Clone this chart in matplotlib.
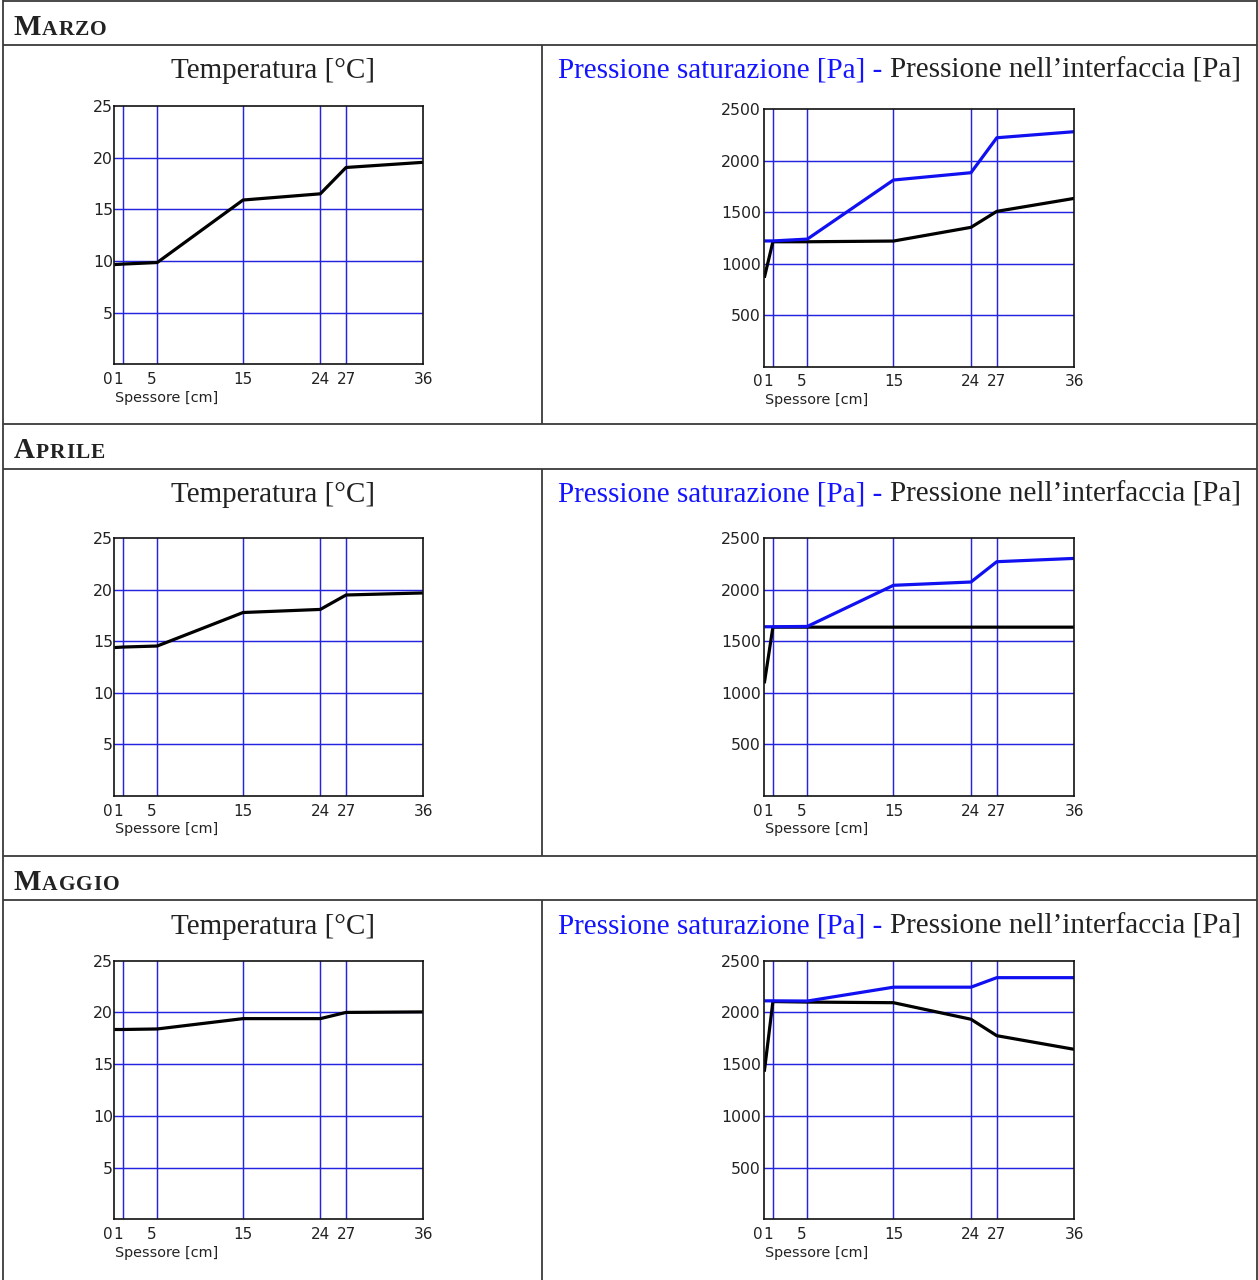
import matplotlib
matplotlib.use("Agg")
import matplotlib.pyplot as plt
from matplotlib.lines import Line2D
from matplotlib.transforms import ScaledTranslation

W, H, DPI = 1258, 1280, 100

# ---- data -------------------------------------------------------------
mesi = ["Marzo", "Aprile", "Maggio"]
spessore_cm = [0, 1, 5, 15, 24, 27, 36]
spessore_labels = ["0", "1", "5", "15", "24", "27", "36"]

temp_ticks = [5, 10, 15, 20, 25]
pres_ticks = [500, 1000, 1500, 2000, 2500]

temp_marzo = [9.65, 9.7, 9.85, 15.9, 16.5, 19.05, 19.55]
temp_aprile = [14.4, 14.45, 14.55, 17.8, 18.1, 19.5, 19.7]
temp_maggio = [18.35, 18.35, 18.4, 19.4, 19.4, 20.0, 20.05]

psat_marzo = [1220, 1220, 1238, 1811, 1882, 2221, 2280]
pint_marzo = [863, 1212, 1212, 1219, 1352, 1507, 1633]
psat_aprile = [1642, 1642, 1645, 2044, 2076, 2273, 2305]
pint_aprile = [1093, 1638, 1638, 1638, 1638, 1638, 1638]
psat_maggio = [2112, 2112, 2110, 2244, 2244, 2336, 2336]
pint_maggio = [1427, 2105, 2100, 2094, 1934, 1775, 1643]

temperature = [temp_marzo, temp_aprile, temp_maggio]
p_saturazione = [psat_marzo, psat_aprile, psat_maggio]
p_interfaccia = [pint_marzo, pint_aprile, pint_maggio]

# ---- style ------------------------------------------------------------
GRID = "#2323e0"
BLUE = "#1010f0"
TITLE_BLUE = "#1414ff"
BORDER = "#3a3a3a"
TEXT = "#222222"
SERIF = "Liberation Serif"
TICKFONT = "DejaVu Sans"

fig = plt.figure(figsize=(W / DPI, H / DPI), dpi=DPI)
fig.patch.set_facecolor("white")


def fx(x):
    return x / W


def fy(y):
    return 1 - y / H


def hline(y, x0, x1, lw=1.3):
    fig.add_artist(Line2D([fx(x0), fx(x1)], [fy(y), fy(y)], transform=fig.transFigure,
                          color=BORDER, lw=lw, solid_capstyle="butt"))


def vline(x, y0, y1, lw=1.3):
    fig.add_artist(Line2D([fx(x), fx(x)], [fy(y0), fy(y1)], transform=fig.transFigure,
                          color=BORDER, lw=lw, solid_capstyle="butt"))


# table structure: header row + chart row for each month
header_top = [0.5, 424, 855.5]
header_bot = [44.5, 469, 900]
row_bot = [424, 855.5, 1280]
LEFT, MID, RIGHT = 3.5, 542.3, 1257

for i in range(3):
    hline(header_top[i], LEFT, RIGHT)
    hline(header_bot[i], LEFT, RIGHT)
    vline(MID, header_bot[i], row_bot[i])
vline(LEFT, 0, H)
vline(RIGHT, 0, H)

renderer = fig.canvas.get_renderer()


def small_caps(word, x, y, tracking=1.0):
    """Bold serif small caps: full-size initial, reduced capitals after it."""
    big = fig.text(fx(x), fy(y), word[0].upper(), family=SERIF, weight="bold",
                   fontsize=21, va="baseline", ha="left", color=TEXT)
    x += big.get_window_extent(renderer).width + tracking * 0.5
    for ch in word[1:].upper():
        t = fig.text(fx(x), fy(y), ch, family=SERIF, weight="bold",
                     fontsize=15.5, va="baseline", ha="left", color=TEXT)
        x += t.get_window_extent(renderer).width + tracking


header_base = [35, 458.5, 890]
for i, m in enumerate(mesi):
    small_caps(m, 14, header_base[i])

# chart titles
title_base = [78, 502, 934]
for i in range(3):
    fig.text(fx((LEFT + MID) / 2), fy(title_base[i]), "Temperatura [°C]", family=SERIF,
             fontsize=21, ha="center", va="baseline", color=TEXT)
    part1 = "Pressione saturazione [Pa] - "
    part2 = "Pressione nell\u2019interfaccia [Pa]"
    t1 = fig.text(0, 0, part1, family=SERIF, fontsize=21)
    t2 = fig.text(0, 0, part2, family=SERIF, fontsize=21)
    w1 = t1.get_window_extent(renderer).width
    w2 = t2.get_window_extent(renderer).width
    x0 = (MID + RIGHT) / 2 - (w1 + w2) / 2
    for t, xx, col in ((t1, x0, TITLE_BLUE), (t2, x0 + w1, TEXT)):
        t.set_position((fx(xx), fy(title_base[i])))
        t.set_va("baseline")
        t.set_ha("left")
        t.set_color(col)

# axes rectangles in pixel coordinates (x0, y_top, x1, y_bottom)
temp_rects = [(114.3, 106, 423.3, 364.3), (114.3, 538.3, 423.3, 796),
              (114.3, 960.7, 423.3, 1219.3)]
pres_rects = [(764.3, 109, 1074.3, 366.7), (764.3, 538.3, 1074.3, 796),
              (764.3, 960.7, 1074.3, 1219.3)]

label_shift_px = [-6, -5, -6, 0, 0, 0, 0]


def chart(rect, series, colors, ticks, ypad):
    x0, y0, x1, y1 = rect
    ax = fig.add_axes([fx(x0), fy(y1), fx(x1) - fx(x0), fy(y0) - fy(y1)])
    ax.set_xlim(spessore_cm[0], spessore_cm[-1])
    ax.set_ylim(0, ticks[-1])
    for xv in spessore_cm[1:-1]:
        ax.axvline(xv, color=GRID, lw=1.05, zorder=1)
    for yv in ticks[:-1]:
        ax.axhline(yv, color=GRID, lw=1.05, zorder=1)
    for vals, c in zip(series, colors):
        ax.plot(spessore_cm, vals, color=c, lw=2.3, zorder=3,
                solid_joinstyle="round", solid_capstyle="butt")
    ax.set_xticks(spessore_cm)
    ax.set_xticklabels(spessore_labels, family=TICKFONT, fontsize=11, color=TEXT)
    ax.set_yticks(ticks)
    ax.set_yticklabels([str(t) for t in ticks], family=TICKFONT, fontsize=11.3,
                       color=TEXT)
    ax.tick_params(axis="x", length=0, pad=5.5)
    ax.tick_params(axis="y", length=0, pad=ypad)
    for lab, dx in zip(ax.get_xticklabels(), label_shift_px):
        lab.set_transform(lab.get_transform() +
                          ScaledTranslation(dx / DPI, 0, fig.dpi_scale_trans))
    for s in ax.spines.values():
        s.set_color("#111111")
        s.set_linewidth(1.2)
        s.set_zorder(4)
    ax.annotate("Spessore [cm]", xy=(0, 0), xycoords="axes fraction",
                xytext=(0.5, -19), textcoords="offset points", ha="left", va="top",
                family=TICKFONT, fontsize=10.4, color=TEXT)
    return ax


for i in range(3):
    chart(temp_rects[i], [temperature[i]], ["black"], temp_ticks, 1.0)
    chart(pres_rects[i], [p_interfaccia[i], p_saturazione[i]], ["black", BLUE],
          pres_ticks, 2.5)

fig.savefig("out.png", dpi=DPI, facecolor="white")
